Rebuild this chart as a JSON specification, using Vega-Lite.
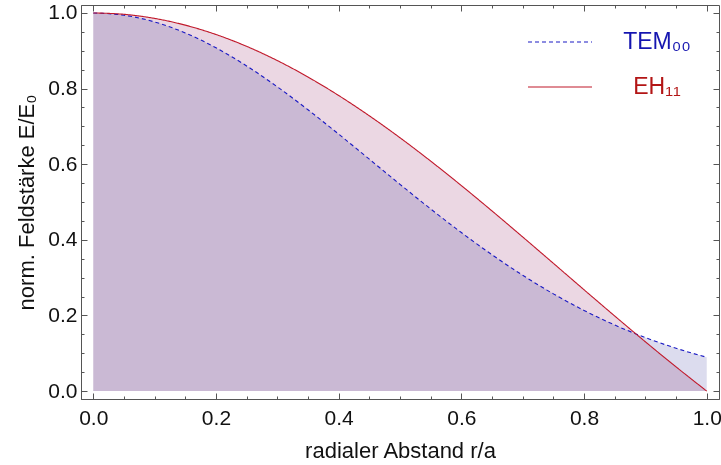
{
  "$schema": "https://vega.github.io/schema/vega-lite/v6.json",
  "width": 638,
  "height": 394,
  "autosize": "none",
  "padding": {"left": 81, "top": 5, "right": 2, "bottom": 66},
  "background": "white",
  "config": {
    "view": {"stroke": "#555555", "strokeWidth": 1},
    "font": "Liberation Sans",
    "axis": {
      "domainColor": "#555555",
      "tickColor": "#555555",
      "grid": false,
      "labelFont": "Liberation Sans",
      "labelFontSize": 21,
      "labelColor": "#111111",
      "titleFont": "Liberation Sans",
      "titleFontSize": 22,
      "titleFontWeight": "normal",
      "titleColor": "#111111"
    }
  },
  "data": {
    "values": [
      {"r": 0.00, "E": 1.00000, "mode": "TEM00"},
      {"r": 0.05, "E": 0.99398, "mode": "TEM00"},
      {"r": 0.10, "E": 0.97614, "mode": "TEM00"},
      {"r": 0.15, "E": 0.94711, "mode": "TEM00"},
      {"r": 0.20, "E": 0.90792, "mode": "TEM00"},
      {"r": 0.25, "E": 0.85991, "mode": "TEM00"},
      {"r": 0.30, "E": 0.80466, "mode": "TEM00"},
      {"r": 0.35, "E": 0.74390, "mode": "TEM00"},
      {"r": 0.40, "E": 0.67951, "mode": "TEM00"},
      {"r": 0.45, "E": 0.61322, "mode": "TEM00"},
      {"r": 0.50, "E": 0.54677, "mode": "TEM00"},
      {"r": 0.55, "E": 0.48167, "mode": "TEM00"},
      {"r": 0.60, "E": 0.41921, "mode": "TEM00"},
      {"r": 0.65, "E": 0.36047, "mode": "TEM00"},
      {"r": 0.70, "E": 0.30626, "mode": "TEM00"},
      {"r": 0.75, "E": 0.25708, "mode": "TEM00"},
      {"r": 0.80, "E": 0.21321, "mode": "TEM00"},
      {"r": 0.85, "E": 0.17465, "mode": "TEM00"},
      {"r": 0.90, "E": 0.14141, "mode": "TEM00"},
      {"r": 0.95, "E": 0.11311, "mode": "TEM00"},
      {"r": 1.00, "E": 0.08937, "mode": "TEM00"},
      {"r": 0.00, "E": 1.00000, "mode": "EH11"},
      {"r": 0.05, "E": 0.99639, "mode": "EH11"},
      {"r": 0.10, "E": 0.98559, "mode": "EH11"},
      {"r": 0.15, "E": 0.96773, "mode": "EH11"},
      {"r": 0.20, "E": 0.94300, "mode": "EH11"},
      {"r": 0.25, "E": 0.91166, "mode": "EH11"},
      {"r": 0.30, "E": 0.87405, "mode": "EH11"},
      {"r": 0.35, "E": 0.83058, "mode": "EH11"},
      {"r": 0.40, "E": 0.78172, "mode": "EH11"},
      {"r": 0.45, "E": 0.72797, "mode": "EH11"},
      {"r": 0.50, "E": 0.66994, "mode": "EH11"},
      {"r": 0.55, "E": 0.60821, "mode": "EH11"},
      {"r": 0.60, "E": 0.54346, "mode": "EH11"},
      {"r": 0.65, "E": 0.47634, "mode": "EH11"},
      {"r": 0.70, "E": 0.40759, "mode": "EH11"},
      {"r": 0.75, "E": 0.33790, "mode": "EH11"},
      {"r": 0.80, "E": 0.26797, "mode": "EH11"},
      {"r": 0.85, "E": 0.19853, "mode": "EH11"},
      {"r": 0.90, "E": 0.13029, "mode": "EH11"},
      {"r": 0.95, "E": 0.06390, "mode": "EH11"},
      {"r": 1.00, "E": 0.00000, "mode": "EH11"}
    ]
  },
  "encoding": {
    "x": {
      "field": "r",
      "type": "quantitative",
      "scale": {"domain": [-0.02, 1.02], "nice": false, "zero": false}
    },
    "y": {
      "field": "E",
      "type": "quantitative",
      "scale": {"domain": [-0.021, 1.021], "nice": false, "zero": false}
    }
  },
  "layer": [
    {
      "transform": [{"filter": "datum.mode === 'EH11'"}],
      "mark": {"type": "area", "color": "#ebd7e3", "interpolate": "monotone", "orient": "vertical"},
      "encoding": {
        "y2": {"datum": 0},
        "x": {
          "field": "r",
          "type": "quantitative",
          "axis": {
            "orient": "bottom",
            "title": "radialer Abstand r/a",
            "values": [0, 0.05, 0.1, 0.15, 0.2, 0.25, 0.3, 0.35, 0.4, 0.45, 0.5, 0.55, 0.6, 0.65, 0.7, 0.75, 0.8, 0.85, 0.9, 0.95, 1.0],
            "labelExpr": "abs(datum.value*5 - round(datum.value*5)) < 0.001 ? format(datum.value, '.1f') : ''",
            "tickSize": {"condition": {"test": "abs(datum.value*5 - round(datum.value*5)) < 0.001", "value": -6}, "value": -3},
            "labelPadding": 14,
            "titlePadding": 9,
            "labelFlush": false,
            "labelOverlap": false
          }
        },
        "y": {
          "field": "E",
          "type": "quantitative",
          "axis": {
            "orient": "left",
            "title": "norm. Feldstärke E/E₀",
            "values": [0, 0.05, 0.1, 0.15, 0.2, 0.25, 0.3, 0.35, 0.4, 0.45, 0.5, 0.55, 0.6, 0.65, 0.7, 0.75, 0.8, 0.85, 0.9, 0.95, 1.0],
            "labelExpr": "abs(datum.value*5 - round(datum.value*5)) < 0.001 ? format(datum.value, '.1f') : ''",
            "tickSize": {"condition": {"test": "abs(datum.value*5 - round(datum.value*5)) < 0.001", "value": -6}, "value": -3},
            "labelPadding": 10,
            "titlePadding": 9,
            "labelFlush": false,
            "labelOverlap": false
          }
        }
      }
    },
    {
      "transform": [{"filter": "datum.mode === 'TEM00'"}],
      "mark": {"type": "area", "color": "#dcdcee", "interpolate": "monotone", "blend": "multiply", "orient": "vertical"},
      "encoding": {
        "y2": {"datum": 0},
        "x": {
          "field": "r",
          "type": "quantitative",
          "axis": {
            "orient": "top",
            "title": null,
            "labels": false,
            "domain": false,
            "values": [0, 0.05, 0.1, 0.15, 0.2, 0.25, 0.3, 0.35, 0.4, 0.45, 0.5, 0.55, 0.6, 0.65, 0.7, 0.75, 0.8, 0.85, 0.9, 0.95, 1.0],
            "tickSize": {"condition": {"test": "abs(datum.value*5 - round(datum.value*5)) < 0.001", "value": -6}, "value": -3}
          }
        },
        "y": {
          "field": "E",
          "type": "quantitative",
          "axis": {
            "orient": "right",
            "title": null,
            "labels": false,
            "domain": false,
            "values": [0, 0.05, 0.1, 0.15, 0.2, 0.25, 0.3, 0.35, 0.4, 0.45, 0.5, 0.55, 0.6, 0.65, 0.7, 0.75, 0.8, 0.85, 0.9, 0.95, 1.0],
            "tickSize": {"condition": {"test": "abs(datum.value*5 - round(datum.value*5)) < 0.001", "value": -6}, "value": -3}
          }
        }
      }
    },
    {
      "mark": {"type": "line", "strokeWidth": 1.1, "interpolate": "monotone"},
      "encoding": {
        "x": {"field": "r", "type": "quantitative", "axis": null},
        "y": {"field": "E", "type": "quantitative", "axis": null},
        "color": {
          "field": "mode",
          "type": "nominal",
          "scale": {"domain": ["TEM00", "EH11"], "range": ["#1a1ac4", "#c0182a"]},
          "legend": {
            "orient": "none",
            "legendX": 446,
            "legendY": 4,
            "title": null,
            "symbolType": "stroke",
            "symbolSize": 4096,
            "symbolStrokeWidth": 1.1,
            "labelFontSize": 23,
            "labelFont": "Liberation Sans",
            "labelAlign": "center",
            "labelOffset": 64,
            "rowPadding": -21,
            "labelExpr": "datum.value === 'TEM00' ? 'TEM₀₀' : 'EH₁₁'",
            "encode": {
              "labels": {
                "update": {
                  "fill": {"signal": "datum.value === 'TEM00' ? '#1515b0' : '#b31515'"}
                }
              }
            }
          }
        },
        "strokeDash": {
          "field": "mode",
          "type": "nominal",
          "scale": {"domain": ["TEM00", "EH11"], "range": [[4, 3], [1, 0]]},
          "legend": {
            "orient": "none",
            "legendX": 446,
            "legendY": 4,
            "title": null,
            "symbolType": "stroke",
            "symbolSize": 4096,
            "labelExpr": "datum.value === 'TEM00' ? 'TEM₀₀' : 'EH₁₁'"
          }
        }
      }
    }
  ]
}
